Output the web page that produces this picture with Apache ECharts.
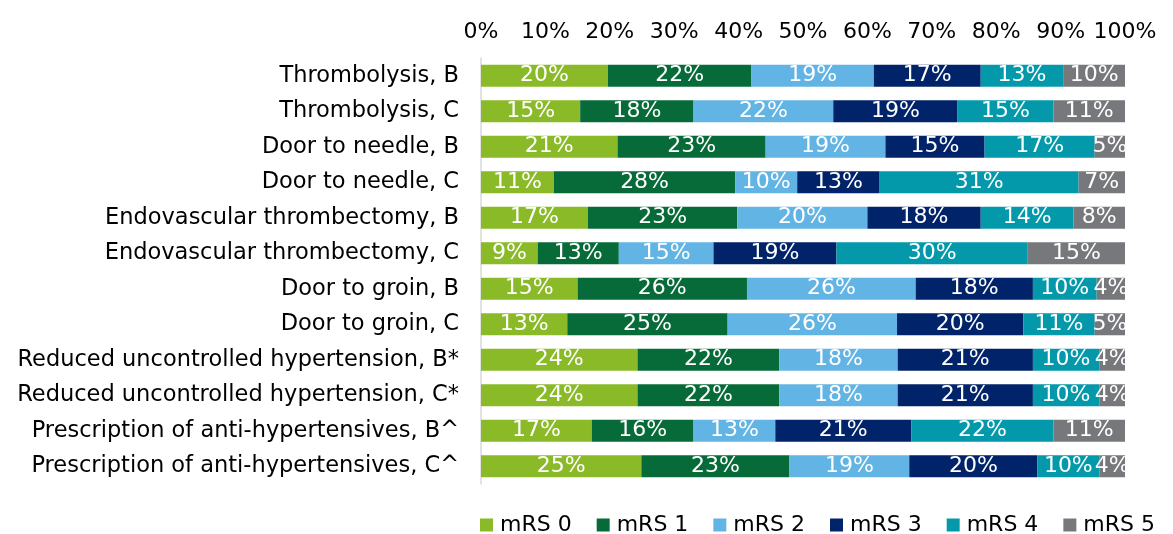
<!DOCTYPE html>
<html lang="en">

<head>
    <title>mRS distribution</title>
    <meta charset="UTF-8">
    <script src="https://cdn.jsdelivr.net/npm/echarts@6/dist/echarts.min.js"></script>
    <style>
        body { margin: 0; background: #fff; }
    </style>
</head>

<body>
    <div id="main" style="width: 1173px;height:534px;"></div>
    <script>
        // categories, top to bottom
        var categories = [
            'Thrombolysis, B',
            'Thrombolysis, C',
            'Door to needle, B',
            'Door to needle, C',
            'Endovascular thrombectomy, B',
            'Endovascular thrombectomy, C',
            'Door to groin, B',
            'Door to groin, C',
            'Reduced uncontrolled hypertension, B*',
            'Reduced uncontrolled hypertension, C*',
            'Prescription of anti-hypertensives, B^',
            'Prescription of anti-hypertensives, C^'
        ];

        // shares (%)
        var mrs0 = [19.7, 15.4, 21.2, 11.3, 16.6, 8.8, 15.0, 13.4, 24.3, 24.3, 17.2, 24.9];
        var mrs1 = [22.3, 17.6, 23.0, 28.2, 23.2, 12.6, 26.3, 24.9, 22.0, 22.0, 15.8, 23.0];
        var mrs2 = [19.0, 21.7, 18.6, 9.6, 20.2, 14.7, 26.2, 26.3, 18.4, 18.4, 12.7, 18.6];
        var mrs3 = [16.6, 19.3, 15.4, 12.8, 17.6, 19.1, 18.2, 19.6, 21.0, 21.0, 21.1, 19.9];
        var mrs4 = [12.8, 14.9, 17.1, 30.9, 14.4, 29.7, 9.9, 11.1, 10.3, 10.3, 22.1, 9.6];
        var mrs5 = [9.6, 11.1, 4.7, 7.2, 8.0, 15.1, 4.4, 4.7, 4.0, 4.0, 11.1, 4.0];

        var seriesNames = ['mRS 0', 'mRS 1', 'mRS 2', 'mRS 3', 'mRS 4', 'mRS 5'];
        var seriesData = [mrs0, mrs1, mrs2, mrs3, mrs4, mrs5];
        var colors = ['#8aba27', '#076b39', '#62b4e4', '#002369', '#0399ab', '#76787b'];

        var fontFamily = '"DejaVu Sans", Verdana, sans-serif';

        var myChart = echarts.init(document.getElementById('main'));

        var option = {
            animation: false,
            color: colors,
            textStyle: { fontFamily: fontFamily },
            legend: {
                data: seriesNames,
                left: 480,
                top: 514,
                padding: 0,
                itemWidth: 13,
                itemHeight: 13,
                itemGap: 25,
                icon: 'rect',
                textStyle: {
                    fontSize: 22,
                    color: '#000',
                    fontFamily: fontFamily,
                    padding: [0, 0, 0, 2]
                }
            },
            grid: {
                left: 481,
                right: 48,
                top: 58,
                bottom: 50
            },
            xAxis: {
                type: 'value',
                position: 'top',
                min: 0,
                max: 100,
                interval: 10,
                axisLine: { show: false },
                axisTick: { show: false },
                splitLine: { show: false },
                axisLabel: {
                    formatter: '{value}%',
                    fontSize: 22,
                    color: '#000',
                    margin: 15
                }
            },
            yAxis: {
                type: 'category',
                inverse: true,
                data: categories,
                axisLine: { show: true, lineStyle: { color: '#d9d9d9', width: 1.5 } },
                axisTick: { show: false },
                axisLabel: {
                    fontSize: 22.5,
                    color: '#000',
                    margin: 22
                }
            },
            series: seriesNames.map(function (name, i) {
                return {
                    name: name,
                    type: 'bar',
                    stack: 'total',
                    barCategoryGap: '38%',
                    data: seriesData[i],
                    itemStyle: { color: colors[i] },
                    label: {
                        show: true,
                        position: 'inside',
                        color: '#fff',
                        fontSize: 22,
                        fontFamily: fontFamily,
                        formatter: function (p) {
                            return Math.round(p.value) + '%';
                        }
                    }
                };
            })
        };

        myChart.setOption(option);
    </script>
</body>

</html>
